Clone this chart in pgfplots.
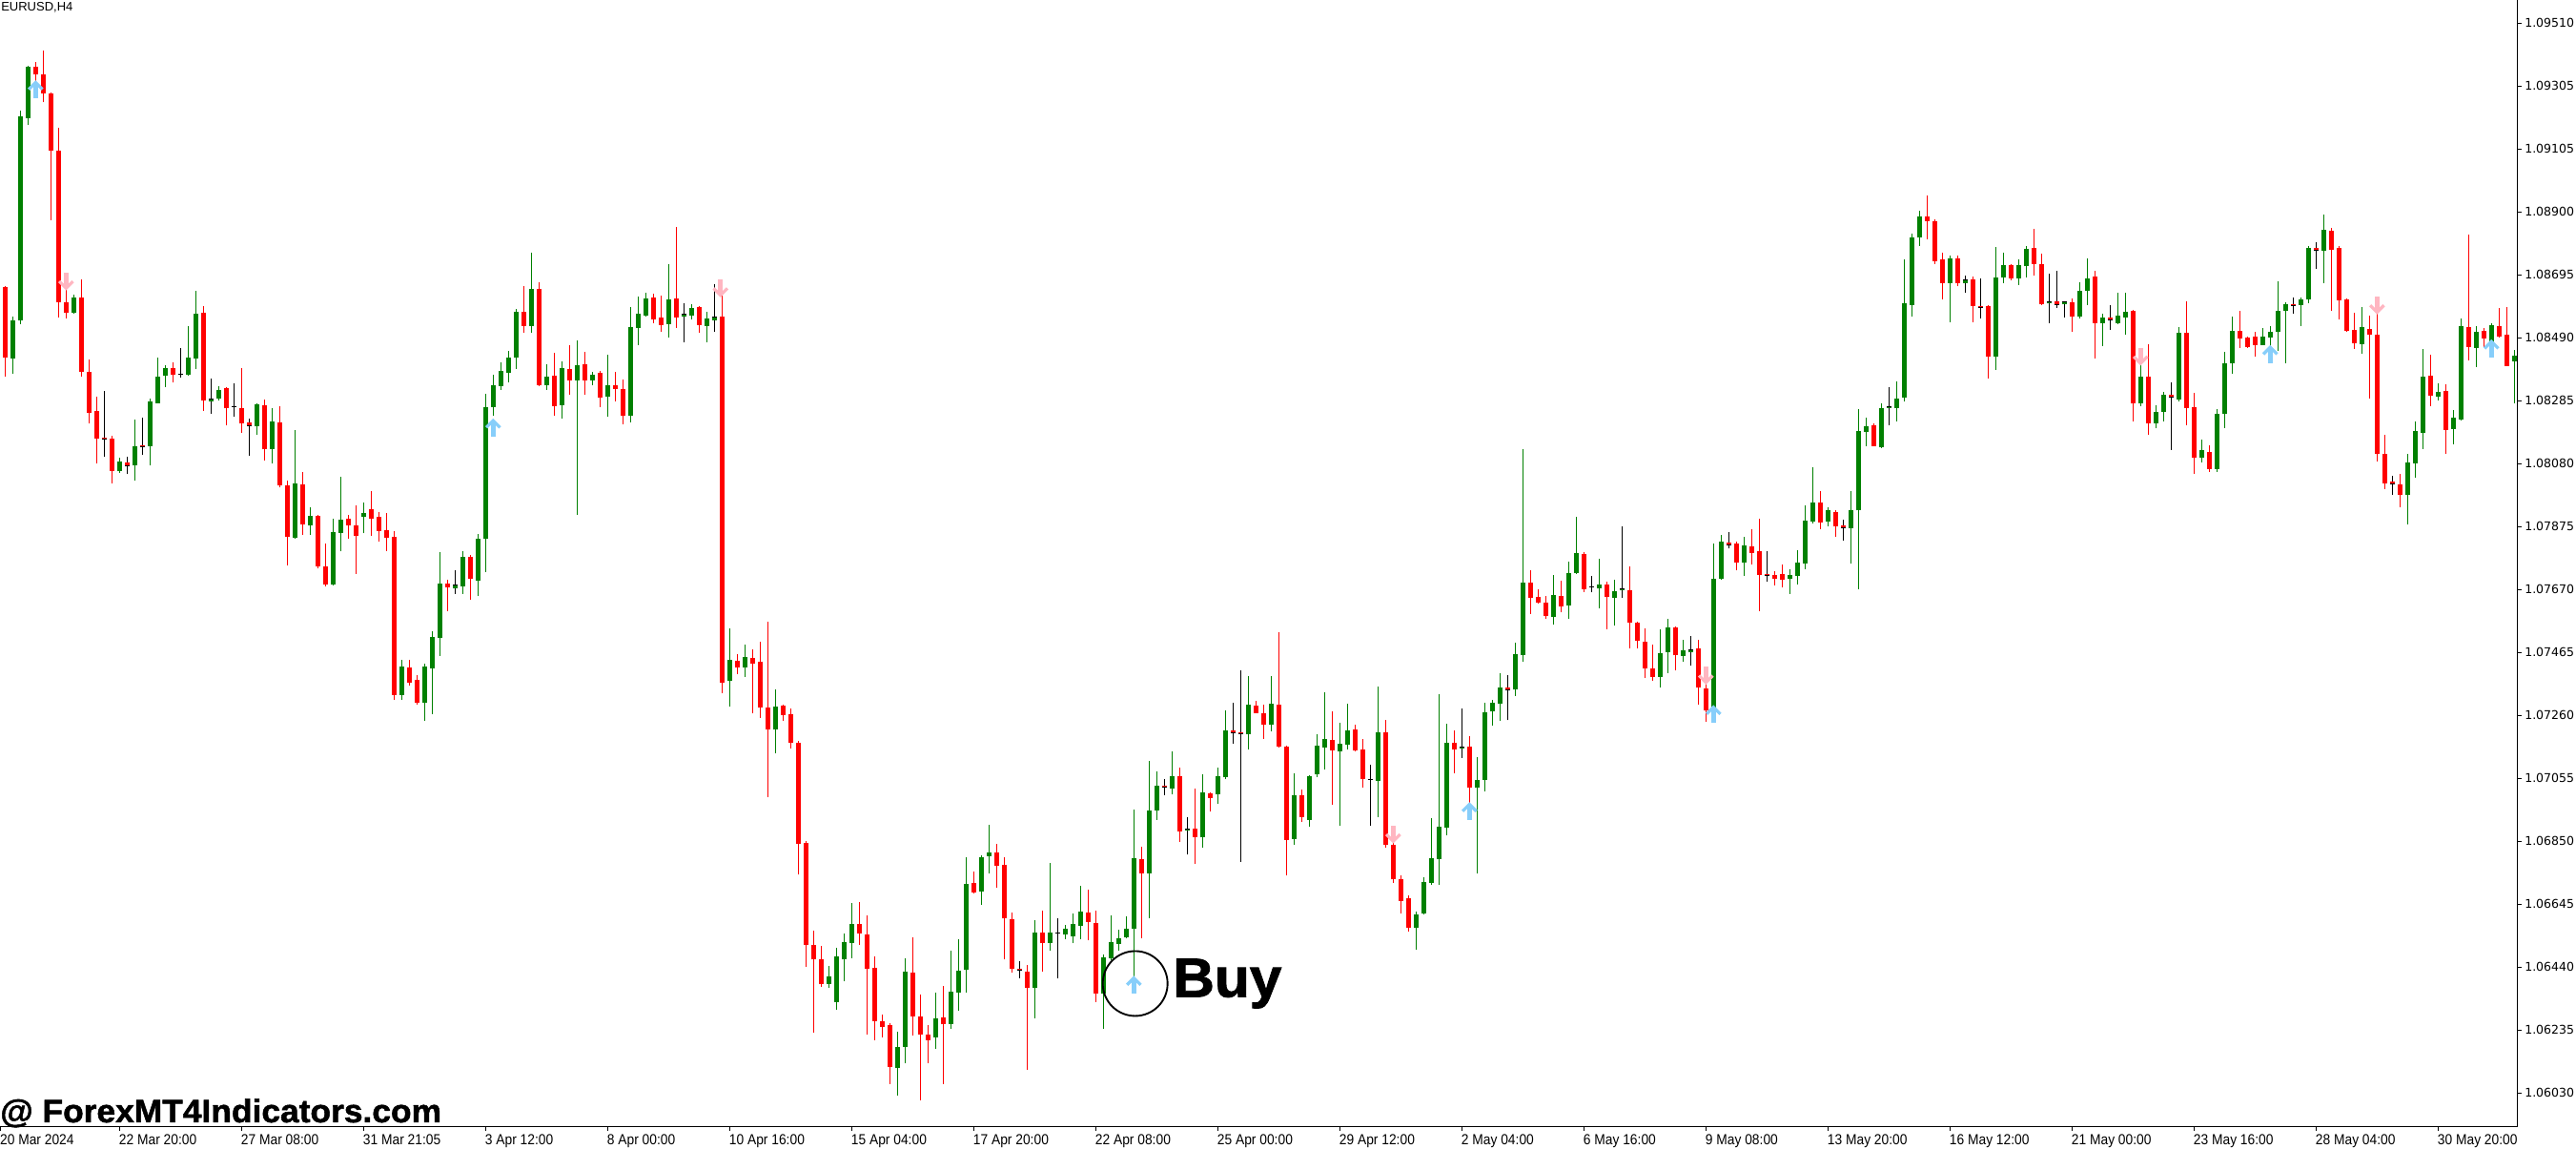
\documentclass[border=0pt]{standalone}
\usepackage{fontspec}
\setmainfont{Liberation Sans}
\newfontfamily\datefont[FakeStretch=0.9]{Liberation Sans}
\newfontfamily\pricefont{DejaVu Sans}
\newfontfamily\heavyfont[FakeStretch=1.04,BoldFeatures={FakeBold=1.5}]{Liberation Sans}
\usepackage{pgfplots}
\usepackage{pgfplotstable}
\pgfplotsset{compat=1.18}
\definecolor{bull}{RGB}{0,128,0}
\definecolor{bear}{RGB}{255,0,0}
\definecolor{upar}{RGB}{135,206,250}
\definecolor{dnar}{RGB}{255,182,193}
\pgfdeclareplotmark{uparr}{%
  \pgfpathrectangle{\pgfpoint{-1.75pt}{-6.75pt}}{\pgfpoint{3.5pt}{11pt}}%
  \pgfusepath{fill}%
  \pgfsetlinewidth{2.4pt}\pgfsetmiterjoin\pgfsetbuttcap
  \pgfpathmoveto{\pgfpoint{-5.4pt}{0.2pt}}%
  \pgfpathlineto{\pgfpoint{0pt}{5.6pt}}%
  \pgfpathlineto{\pgfpoint{5.4pt}{0.2pt}}%
  \pgfusepath{stroke}%
}
\pgfdeclareplotmark{dnarr}{%
  \pgfpathrectangle{\pgfpoint{-1.75pt}{-4.25pt}}{\pgfpoint{3.5pt}{11pt}}%
  \pgfusepath{fill}%
  \pgfsetlinewidth{2.4pt}\pgfsetmiterjoin\pgfsetbuttcap
  \pgfpathmoveto{\pgfpoint{-5.4pt}{-0.2pt}}%
  \pgfpathlineto{\pgfpoint{0pt}{-5.6pt}}%
  \pgfpathlineto{\pgfpoint{5.4pt}{-0.2pt}}%
  \pgfusepath{stroke}%
}
\pgfplotstableread{
i o h l c
0 1.086519 1.086563 1.083607 1.084222
1 1.084207 1.085568 1.083709 1.085436
2 1.085436 1.092242 1.085319 1.092067
3 1.092023 1.093706 1.091803 1.093677
4 1.093677 1.093838 1.093077 1.093443
5 1.093428 1.094204 1.092521 1.092828
6 1.092814 1.092843 1.088686 1.090940
7 1.090954 1.091686 1.085538 1.086022
8 1.086022 1.086592 1.085509 1.085670
9 1.085670 1.086256 1.085655 1.086183
10 1.086183 1.086768 1.083607 1.083768
11 1.083753 1.084163 1.082070 1.082436
12 1.082494 1.082948 1.080767 1.081601
13 1.081616 1.083138 1.080986 1.081557
14 1.081587 1.081674 1.080137 1.080547
15 1.080518 1.080971 1.080474 1.080840
16 1.080796 1.081001 1.080430 1.080708
17 1.080708 1.082202 1.080210 1.081338
18 1.081367 1.082275 1.081045 1.081308
19 1.081352 1.082904 1.080708 1.082801
20 1.082743 1.084222 1.082728 1.083607
21 1.083621 1.083973 1.083270 1.083885
22 1.083885 1.084075 1.083402 1.083651
23 1.083680 1.084529 1.083563 1.083680
24 1.083665 1.085245 1.083636 1.084222
25 1.084178 1.086387 1.083841 1.085655
26 1.085685 1.085890 1.082494 1.082816
27 1.082801 1.083548 1.082406 1.082860
28 1.082875 1.083299 1.082816 1.083182
29 1.083226 1.083255 1.082011 1.082567
30 1.082611 1.083387 1.082289 1.082611
31 1.082582 1.083885 1.081777 1.082070
32 1.082114 1.082231 1.081030 1.082011
33 1.081982 1.082728 1.081718 1.082699
34 1.082670 1.082860 1.080884 1.081235
35 1.081235 1.082582 1.080767 1.082143
36 1.082114 1.082641 1.079991 1.080064
37 1.080064 1.080225 1.077472 1.078380
38 1.078351 1.081865 1.078336 1.080122
39 1.080093 1.080503 1.078439 1.078805
40 1.078776 1.079347 1.078468 1.079068
41 1.079068 1.079112 1.077355 1.077443
42 1.077428 1.078175 1.076785 1.076828
43 1.076828 1.078980 1.076814 1.078541
44 1.078527 1.080342 1.077912 1.078951
45 1.078980 1.079112 1.078322 1.078776
46 1.078776 1.079405 1.077194 1.078410
47 1.079028 1.079504 1.078507 1.079172
48 1.079282 1.079881 1.078429 1.078994
49 1.079039 1.079194 1.078252 1.078585
50 1.078607 1.079172 1.077942 1.078374
51 1.078396 1.078573 1.073101 1.073256
52 1.073256 1.074386 1.073101 1.074176
53 1.074131 1.074386 1.073566 1.073655
54 1.073732 1.073898 1.072946 1.072990
55 1.073001 1.074253 1.072414 1.074165
56 1.074120 1.075316 1.072636 1.075139
57 1.075117 1.077898 1.074530 1.076867
58 1.076867 1.077000 1.075981 1.076756
59 1.076723 1.077311 1.076546 1.076812
60 1.076790 1.077931 1.076546 1.077743
61 1.077743 1.077798 1.076347 1.077012
62 1.076978 1.078485 1.076480 1.078330
63 1.078341 1.083049 1.077255 1.082606
64 1.082617 1.083669 1.082318 1.083326
65 1.083293 1.084068 1.083182 1.083791
66 1.083736 1.084445 1.083414 1.084223
67 1.084223 1.085807 1.083858 1.085708
68 1.085708 1.086550 1.085043 1.085253
69 1.085253 1.087635 1.085043 1.086461
70 1.086461 1.086671 1.083293 1.083326
71 1.083337 1.084002 1.083182 1.083603
72 1.083625 1.084378 1.082318 1.082650
73 1.082684 1.084101 1.082251 1.083880
74 1.083847 1.084622 1.083016 1.083492
75 1.083492 1.084777 1.079116 1.083980
76 1.084002 1.084411 1.083016 1.083492
77 1.083492 1.083758 1.083337 1.083680
78 1.083725 1.083791 1.082606 1.082905
79 1.082960 1.084312 1.082285 1.083326
80 1.083326 1.083758 1.082805 1.083204
81 1.083204 1.083514 1.082052 1.082340
82 1.082340 1.085863 1.082129 1.085209
83 1.085198 1.086206 1.084633 1.085652
84 1.085597 1.086328 1.085564 1.086140
85 1.086173 1.086306 1.085353 1.085475
86 1.085530 1.086239 1.085076 1.085287
87 1.085320 1.087259 1.084888 1.086118
88 1.086151 1.088477 1.085198 1.085541
89 1.085553 1.085985 1.084733 1.085641
90 1.085597 1.085951 1.085453 1.085841
91 1.085863 1.085885 1.085043 1.085287
92 1.085253 1.085708 1.084733 1.085497
93 1.085442 1.086616 1.085076 1.085530
94 1.085553 1.086417 1.073300 1.073655
95 1.073696 1.075407 1.072870 1.074392
96 1.074354 1.074580 1.073922 1.074129
97 1.074129 1.074881 1.073828 1.074486
98 1.074449 1.074730 1.072644 1.074280
99 1.074336 1.074975 1.072513 1.072833
100 1.072833 1.075633 1.069920 1.072118
101 1.072118 1.073434 1.071348 1.072870
102 1.072907 1.072926 1.072400 1.072607
103 1.072626 1.072814 1.071517 1.071705
104 1.071686 1.071761 1.067401 1.068397
105 1.068435 1.068491 1.064413 1.065109
106 1.065109 1.065579 1.062252 1.064639
107 1.064658 1.065090 1.063737 1.063831
108 1.063831 1.064432 1.063718 1.064094
109 1.063267 1.065015 1.063023 1.064752
110 1.064639 1.065504 1.063925 1.065203
111 1.065165 1.066481 1.064695 1.065804
112 1.065804 1.066518 1.065128 1.065485
113 1.065466 1.066067 1.062196 1.064338
114 1.064376 1.064752 1.062027 1.062647
115 1.062628 1.062854 1.062121 1.062459
116 1.062515 1.062572 1.060599 1.061144
117 1.061106 1.062290 1.060223 1.061801
118 1.061801 1.064695 1.061256 1.064244
119 1.064225 1.065372 1.062159 1.062778
120 1.062778 1.063519 1.060073 1.062196
121 1.062196 1.062515 1.061256 1.062027
122 1.062121 1.063568 1.061726 1.062722
123 1.062760 1.063775 1.060599 1.062534
124 1.062534 1.064921 1.062384 1.063605
125 1.063568 1.065297 1.062985 1.064282
126 1.064300 1.067965 1.063568 1.067101
127 1.067138 1.067514 1.066800 1.066838
128 1.066857 1.068040 1.066424 1.067965
129 1.068003 1.069018 1.067439 1.068134
130 1.068134 1.068397 1.066970 1.067702
131 1.067721 1.067965 1.064639 1.065974
132 1.065955 1.066180 1.064206 1.064338
133 1.064357 1.064601 1.064037 1.064282
134 1.064244 1.064451 1.061069 1.063718
135 1.063718 1.065917 1.062722 1.065523
136 1.065523 1.066236 1.064263 1.065165
137 1.065165 1.067777 1.064921 1.065523
138 1.065504 1.065992 1.064019 1.065504
139 1.065447 1.065767 1.065316 1.065654
140 1.065391 1.066142 1.065165 1.065804
141 1.065748 1.067044 1.065297 1.066199
142 1.066160 1.066915 1.065263 1.065875
143 1.065833 1.066231 1.063268 1.063525
144 1.063525 1.064807 1.062386 1.064707
145 1.064693 1.066089 1.064636 1.065206
146 1.065163 1.065618 1.064921 1.065334
147 1.065362 1.066060 1.065334 1.065647
148 1.065633 1.069534 1.063553 1.067940
149 1.067897 1.068324 1.065334 1.067456
150 1.067456 1.071116 1.065989 1.069492
151 1.069478 1.070760 1.069193 1.070304
152 1.070304 1.070517 1.069991 1.070247
153 1.070219 1.071401 1.070005 1.070617
154 1.070603 1.070888 1.068481 1.068823
155 1.068837 1.069279 1.068054 1.068894
156 1.068908 1.070219 1.067755 1.068609
157 1.068609 1.070674 1.068296 1.070076
158 1.070048 1.070091 1.069450 1.069905
159 1.070005 1.070888 1.069692 1.070603
160 1.070561 1.072754 1.070503 1.072099
161 1.072099 1.072996 1.071671 1.072013
162 1.072042 1.074050 1.067826 1.071999
163 1.071985 1.073865 1.071486 1.072925
164 1.072896 1.073053 1.072654 1.072668
165 1.072640 1.072925 1.071828 1.072284
166 1.072270 1.073865 1.072070 1.072953
167 1.072925 1.075289 1.071529 1.071572
168 1.071572 1.071614 1.067370 1.068538
169 1.068567 1.070703 1.068367 1.069991
170 1.069991 1.070176 1.069108 1.069279
171 1.069193 1.070646 1.068965 1.070617
172 1.070660 1.071970 1.070575 1.071600
173 1.071543 1.073338 1.070831 1.071814
174 1.071785 1.072711 1.069677 1.071458
175 1.071401 1.072341 1.068994 1.071657
176 1.071643 1.072967 1.071486 1.072099
177 1.072127 1.072270 1.071415 1.071429
178 1.071472 1.071814 1.070247 1.070503
179 1.070518 1.070973 1.068994 1.070489
180 1.070461 1.073523 1.069279 1.072042
181 1.072042 1.072426 1.068296 1.068367
182 1.068367 1.068652 1.067128 1.067242
183 1.067242 1.067370 1.066146 1.066558
184 1.066644 1.066729 1.065561 1.065661
185 1.065661 1.066188 1.064949 1.066117
186 1.066131 1.067313 1.066117 1.067171
187 1.067128 1.069250 1.067071 1.067940
188 1.067897 1.073281 1.067057 1.068965
189 1.068923 1.072312 1.068681 1.071700
190 1.071696 1.072086 1.070707 1.071469
191 1.071502 1.072816 1.071210 1.071567
192 1.071567 1.071924 1.069539 1.070221
193 1.070221 1.071226 1.067431 1.070480
194 1.070496 1.072994 1.070123 1.072686
195 1.072702 1.073092 1.072264 1.072994
196 1.072978 1.073951 1.072410 1.073497
197 1.073497 1.073886 1.072426 1.073416
198 1.073416 1.074957 1.073221 1.074584
199 1.074535 1.081234 1.074340 1.076903
200 1.076903 1.077308 1.075881 1.076401
201 1.076433 1.076692 1.076222 1.076238
202 1.076254 1.076481 1.075719 1.075833
203 1.075800 1.077146 1.075524 1.076498
204 1.076465 1.076968 1.075930 1.076141
205 1.076173 1.077584 1.075735 1.077227
206 1.077211 1.079044 1.077179 1.077860
207 1.077828 1.077893 1.076595 1.076692
208 1.076757 1.077114 1.076579 1.076757
209 1.076708 1.077681 1.076060 1.076838
210 1.076838 1.076919 1.075394 1.076449
211 1.076417 1.077000 1.075492 1.076627
212 1.076644 1.078736 1.076401 1.076692
213 1.076660 1.077438 1.074778 1.075589
214 1.075605 1.075638 1.074762 1.075005
215 1.074989 1.075411 1.073789 1.074097
216 1.074113 1.074892 1.073708 1.073837
217 1.073837 1.075378 1.073497 1.074600
218 1.074632 1.075719 1.073967 1.075443
219 1.075443 1.075476 1.074048 1.074535
220 1.074503 1.075038 1.074340 1.074697
221 1.074632 1.075168 1.074194 1.074730
222 1.074762 1.075054 1.072945 1.073481
223 1.073465 1.073821 1.072362 1.072735
224 1.072670 1.078168 1.072637 1.077033
225 1.077017 1.078444 1.076984 1.078233
226 1.078201 1.078541 1.078006 1.078136
227 1.078168 1.078233 1.077292 1.077568
228 1.077568 1.078395 1.077130 1.078120
229 1.078087 1.078639 1.077487 1.077876
230 1.077925 1.078979 1.075979 1.077162
231 1.077179 1.077941 1.076919 1.077146
232 1.077146 1.077260 1.076822 1.077033
233 1.077179 1.077487 1.076741 1.076984
234 1.077017 1.077324 1.076546 1.077146
235 1.077114 1.077973 1.076855 1.077568
236 1.077536 1.079417 1.077340 1.078914
237 1.078885 1.080658 1.078837 1.079524
238 1.079500 1.079886 1.078655 1.078872
239 1.078897 1.079343 1.078740 1.079247
240 1.079198 1.079247 1.078402 1.078740
241 1.078764 1.078945 1.078281 1.078679
242 1.078679 1.079886 1.077509 1.079247
243 1.079247 1.082553 1.076700 1.081841
244 1.081817 1.082276 1.081346 1.081986
245 1.082022 1.082070 1.081334 1.081346
246 1.081322 1.082722 1.081286 1.082577
247 1.082577 1.083265 1.082034 1.082613
248 1.082565 1.083446 1.082155 1.082903
249 1.082927 1.087416 1.082782 1.085980
250 1.085944 1.088261 1.085570 1.088116
251 1.088116 1.088997 1.087862 1.088828
252 1.088804 1.089491 1.088080 1.088671
253 1.088659 1.088707 1.087271 1.087368
254 1.087404 1.087633 1.086125 1.086656
255 1.086656 1.087549 1.085377 1.087464
256 1.087452 1.087549 1.086535 1.086656
257 1.086656 1.086897 1.086318 1.086752
258 1.086764 1.086849 1.085377 1.085885
259 1.085885 1.086800 1.085509 1.085849
260 1.085885 1.085920 1.083542 1.084266
261 1.084266 1.087826 1.083820 1.086825
262 1.086825 1.087633 1.086656 1.087235
263 1.087235 1.087259 1.086740 1.086813
264 1.086813 1.087416 1.086584 1.087235
265 1.087187 1.087850 1.086837 1.087754
266 1.087790 1.088417 1.086897 1.087271
267 1.087259 1.087609 1.085932 1.085956
268 1.085980 1.086957 1.085352 1.086028
269 1.086052 1.087042 1.085849 1.085944
270 1.085956 1.086064 1.085533 1.086028
271 1.086028 1.086137 1.085075 1.085570
272 1.085570 1.086680 1.085485 1.086390
273 1.086402 1.087452 1.085944 1.086813
274 1.086861 1.087042 1.084206 1.085352
275 1.085352 1.085654 1.084604 1.085521
276 1.085521 1.085932 1.085135 1.085449
277 1.085352 1.086330 1.085316 1.085594
278 1.085533 1.086330 1.084978 1.085726
279 1.085739 1.085787 1.082155 1.082722
280 1.082722 1.084170 1.082637 1.083603
281 1.083603 1.084653 1.081720 1.082070
282 1.082094 1.082674 1.081913 1.082456
283 1.082468 1.083108 1.082155 1.083011
284 1.083011 1.083422 1.081226 1.082927
285 1.082869 1.085206 1.082787 1.085020
286 1.085020 1.086054 1.082022 1.082590
287 1.082601 1.083076 1.080450 1.080977
288 1.080977 1.081556 1.080822 1.081205
289 1.081153 1.081370 1.080512 1.080605
290 1.080605 1.082549 1.080512 1.082394
291 1.082394 1.084410 1.081939 1.084038
292 1.084038 1.085558 1.083707 1.085092
293 1.085092 1.085744 1.084544 1.084855
294 1.084875 1.084906 1.084544 1.084576
295 1.084906 1.085061 1.084265 1.084638
296 1.084638 1.085185 1.084627 1.084906
297 1.084886 1.085247 1.084379 1.085061
298 1.085072 1.086705 1.084441 1.085744
299 1.085754 1.086023 1.084048 1.085961
300 1.085961 1.086178 1.085661 1.085919
301 1.085940 1.086178 1.085258 1.086106
302 1.086106 1.087843 1.086002 1.087791
303 1.087791 1.087977 1.087119 1.087708
304 1.087708 1.088876 1.086654 1.088380
305 1.088349 1.088442 1.085754 1.087739
306 1.087791 1.087843 1.085475 1.086095
307 1.086116 1.086137 1.085072 1.085103
308 1.085123 1.085681 1.084514 1.084700
309 1.084669 1.085857 1.084358 1.085206
310 1.085154 1.085588 1.082901 1.084978
311 1.084968 1.085826 1.080853 1.081101
312 1.081091 1.081712 1.079954 1.080140
313 1.080192 1.080378 1.079768 1.080109
314 1.080098 1.080440 1.079364 1.079768
315 1.079768 1.081101 1.078806 1.080812
316 1.080791 1.082146 1.080326 1.081836
317 1.081784 1.084503 1.081257 1.083604
318 1.083635 1.084317 1.082652 1.082993
319 1.082962 1.083386 1.082838 1.083107
320 1.083138 1.083355 1.081101 1.081877
321 1.081908 1.082518 1.081412 1.082270
322 1.082208 1.085496 1.082187 1.085237
323 1.085216 1.088225 1.084141 1.084575
324 1.084544 1.085237 1.083914 1.085051
325 1.085082 1.085185 1.084555 1.084855
326 1.084720 1.085340 1.084606 1.085278
327 1.085247 1.085837 1.084875 1.084906
328 1.084968 1.085868 1.083955 1.083955
329 1.084110 1.084482 1.082745 1.084286
}\candles
\begin{document}
\begin{tikzpicture}
\begin{axis}[
  scale only axis, width=1980.5pt, height=886.5pt,
  xmin=-0.666, xmax=329.42, ymin=1.059193, ymax=1.095855,
  axis x line=bottom, axis y line=right,
  axis line style={-, line width=0.75pt, black},
  tick align=outside, major tick length=3pt,
  every tick/.style={black, line width=0.75pt},
  xtick={-0.6,15,31,47,63,79,95,111,127,143,159,175,191,207,223,239,255,271,287,303,319},
  xticklabels={20 Mar 2024,22 Mar 20:00,27 Mar 08:00,31 Mar 21:05,3 Apr 12:00,8 Apr 00:00,10 Apr 16:00,15 Apr 04:00,17 Apr 20:00,22 Apr 08:00,25 Apr 00:00,29 Apr 12:00,2 May 04:00,6 May 16:00,9 May 08:00,13 May 20:00,16 May 12:00,21 May 00:00,23 May 16:00,28 May 04:00,30 May 20:00},
  ytick={1.060300,1.062347,1.064394,1.066441,1.068488,1.070536,1.072583,1.074630,1.076677,1.078724,1.080771,1.082818,1.084865,1.086912,1.088959,1.091007,1.093054,1.095101},
  yticklabels={1.06030,1.06235,1.06440,1.06645,1.06850,1.07055,1.07260,1.07465,1.07670,1.07875,1.08080,1.08285,1.08490,1.08695,1.08900,1.09105,1.09305,1.09510},
  xticklabel style={font=\datefont\fontsize{11.5}{12}\selectfont, anchor=north west, inner sep=0pt, xshift=-0.5pt, yshift=-3pt},
  yticklabel style={font=\pricefont\fontsize{9.4}{10}\selectfont, anchor=west, inner sep=0pt, xshift=2.5pt},
  minor tick num=0,
]
\coordinate (TL) at (rel axis cs:0,1);
\coordinate (BL) at (rel axis cs:0,0);
% wicks
\addplot[draw=none, mark=none, forget plot, error bars/.cd, y dir=plus, y explicit, error mark=none, error bar style={draw=bull, line width=0.75pt, solid}]
  table[x expr={\thisrow{c}>\thisrow{o} ? \thisrow{i} : nan}, y=l, y error plus expr={\thisrow{h}-\thisrow{l}}] {\candles};
\addplot[draw=none, mark=none, forget plot, error bars/.cd, y dir=plus, y explicit, error mark=none, error bar style={draw=bear, line width=0.75pt, solid}]
  table[x expr={\thisrow{c}<\thisrow{o} ? \thisrow{i} : nan}, y=l, y error plus expr={\thisrow{h}-\thisrow{l}}] {\candles};
\addplot[draw=none, mark=none, forget plot, error bars/.cd, y dir=plus, y explicit, error mark=none, error bar style={draw=black, line width=0.75pt, solid}]
  table[x expr={\thisrow{c}==\thisrow{o} ? \thisrow{i} : nan}, y=l, y error plus expr={\thisrow{h}-\thisrow{l}}] {\candles};
% bodies
\addplot[draw=none, mark=none, forget plot, error bars/.cd, y dir=plus, y explicit, error mark=none, error bar style={draw=bull, line width=3.75pt, solid}]
  table[x expr={\thisrow{c}>\thisrow{o} ? \thisrow{i} : nan}, y=o, y error plus expr={\thisrow{c}-\thisrow{o}}] {\candles};
\addplot[draw=none, mark=none, forget plot, error bars/.cd, y dir=plus, y explicit, error mark=none, error bar style={draw=bear, line width=3.75pt, solid}]
  table[x expr={\thisrow{c}<\thisrow{o} ? \thisrow{i} : nan}, y=c, y error plus expr={\thisrow{o}-\thisrow{c}}] {\candles};
\addplot[only marks, mark=-, mark size=2pt, mark options={draw=black, line width=0.75pt}, forget plot]
  table[x expr={\thisrow{c}==\thisrow{o} ? \thisrow{i} : nan}, y=c] {\candles};
% signal arrows
\addplot[only marks, mark=uparr, color=upar, mark options={fill=upar, draw=upar}, forget plot]
  coordinates {(4,1.09294) (64,1.081941) (148,1.06381) (192,1.069458) (224,1.072621) (297,1.084327) (326,1.084513)};
\addplot[only marks, mark=dnarr, color=dnar, mark options={fill=dnar, draw=dnar}, forget plot]
  coordinates {(8,1.08671) (93.8,1.086483) (182,1.068723) (223,1.073886) (280,1.084266) (311,1.08593)};
% Buy annotation
\draw[black, line width=1.4pt] (axis cs:148.17,1.063862) circle[radius=25.5pt];
\node[anchor=base west, inner sep=0pt, font=\heavyfont\bfseries\fontsize{43.5}{44}\selectfont] at (axis cs:153.1,1.063427) {Buy};
\end{axis}
\node[anchor=base west, inner sep=0pt, font=\heavyfont\bfseries\fontsize{25.5}{26}\selectfont] at ([yshift=3.75pt]BL) {@ ForexMT4Indicators.com};
\node[anchor=base west, inner sep=0pt, font=\fontsize{9.75}{10}\selectfont] at ([xshift=0.75pt, yshift=-9pt]TL) {EURUSD,H4};
\pgfresetboundingbox
\path[use as bounding box] (TL) rectangle ++(2026.5pt,-903.75pt);
\end{tikzpicture}
\end{document}
